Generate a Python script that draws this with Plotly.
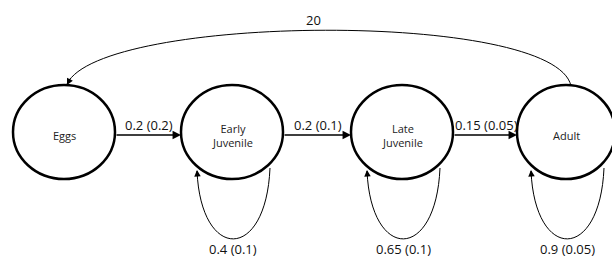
import plotly.graph_objects as go

# ---- data ----
stages = ["Eggs", "Early<br>Juvenile", "Late<br>Juvenile", "Adult"]
growth_mean = [0.2, 0.2, 0.15]      # Eggs->EJ, EJ->LJ, LJ->Adult
growth_sd = [0.2, 0.1, 0.05]
stasis_mean = [0.4, 0.65, 0.9]      # EJ, LJ, Adult self loops
stasis_sd = [0.1, 0.1, 0.05]
fecundity = 20                      # Adult -> Eggs

growth_labels = [f"{m} ({s})" for m, s in zip(growth_mean, growth_sd)]
stasis_labels = [f"{m} ({s})" for m, s in zip(stasis_mean, stasis_sd)]

# ---- layout (pixel space) ----
W, H = 612, 257
cx = [64, 232, 402, 566]
cy = 132
rx = [51, 51, 51, 49]
ry = 47
FONT = "Open Sans"

fig = go.Figure()
fig.add_trace(go.Scatter(x=[0, W], y=[0, H], mode="markers",
                         marker=dict(opacity=0), hoverinfo="skip", showlegend=False))

shapes = []
annotations = []

# circles
for i, name in enumerate(stages):
    shapes.append(dict(type="circle", xref="x", yref="y",
                       x0=cx[i] - rx[i], x1=cx[i] + rx[i], y0=cy - ry, y1=cy + ry,
                       line=dict(color="black", width=2.5), fillcolor="white", layer="above"))
    annotations.append(dict(x=cx[i], y=cy + 3, xref="x", yref="y", text=name,
                            showarrow=False, font=dict(family=FONT, size=11, color="#222")))

# horizontal growth arrows
ya = 135
for i, lab in enumerate(growth_labels):
    x_start = cx[i] + rx[i]
    x_end = cx[i + 1] - rx[i + 1]
    annotations.append(dict(x=x_end, y=ya, ax=x_start, ay=ya, xref="x", yref="y",
                            axref="x", ayref="y", showarrow=True, arrowhead=2,
                            arrowsize=1.3, arrowwidth=1.3, arrowcolor="black", text=""))
    annotations.append(dict(x=(x_start + x_end) / 2 + 1, y=125, xref="x", yref="y",
                            text=lab, showarrow=False,
                            font=dict(family=FONT, size=13, color="#111")))

# self loops
for j, lab in enumerate(stasis_labels):
    c = cx[j + 1]
    xl, xr = c - 35, c + 38
    y_top = 168
    path = f"M {xr} {y_top} C {xr - 4} 262, {xl + 4} 262, {xl} {y_top + 3}"
    shapes.append(dict(type="path", path=path, xref="x", yref="y",
                       line=dict(color="black", width=1)))
    annotations.append(dict(x=xl, y=y_top + 2, ax=xl + 0.6, ay=y_top + 10,
                            xref="x", yref="y", axref="x", ayref="y",
                            showarrow=True, arrowhead=2, arrowsize=1.3, arrowwidth=1,
                            arrowcolor="black", text=""))
    annotations.append(dict(x=c + 1, y=249, xref="x", yref="y", text=lab,
                            showarrow=False, font=dict(family=FONT, size=13, color="#111")))

# fecundity arc Adult -> Eggs
arc = "M 571 86 C 555 10, 100 14, 67 84"
shapes.append(dict(type="path", path=arc, xref="x", yref="y",
                   line=dict(color="black", width=1)))
annotations.append(dict(x=67, y=85, ax=71, ay=77, xref="x", yref="y",
                        axref="x", ayref="y", showarrow=True, arrowhead=2,
                        arrowsize=1.3, arrowwidth=1, arrowcolor="black", text=""))
annotations.append(dict(x=313, y=20, xref="x", yref="y", text=str(fecundity),
                        showarrow=False, font=dict(family=FONT, size=13, color="#111")))

fig.update_layout(
    width=W, height=H, margin=dict(l=0, r=0, t=0, b=0),
    paper_bgcolor="white", plot_bgcolor="white",
    xaxis=dict(range=[0, W], visible=False, fixedrange=True),
    yaxis=dict(range=[H, 0], visible=False, fixedrange=True),
    shapes=shapes, annotations=annotations, showlegend=False,
)
fig.write_html("out.html", config=dict(displayModeBar=False),
               post_script="document.body.style.margin='0';document.body.style.overflow='hidden';")
